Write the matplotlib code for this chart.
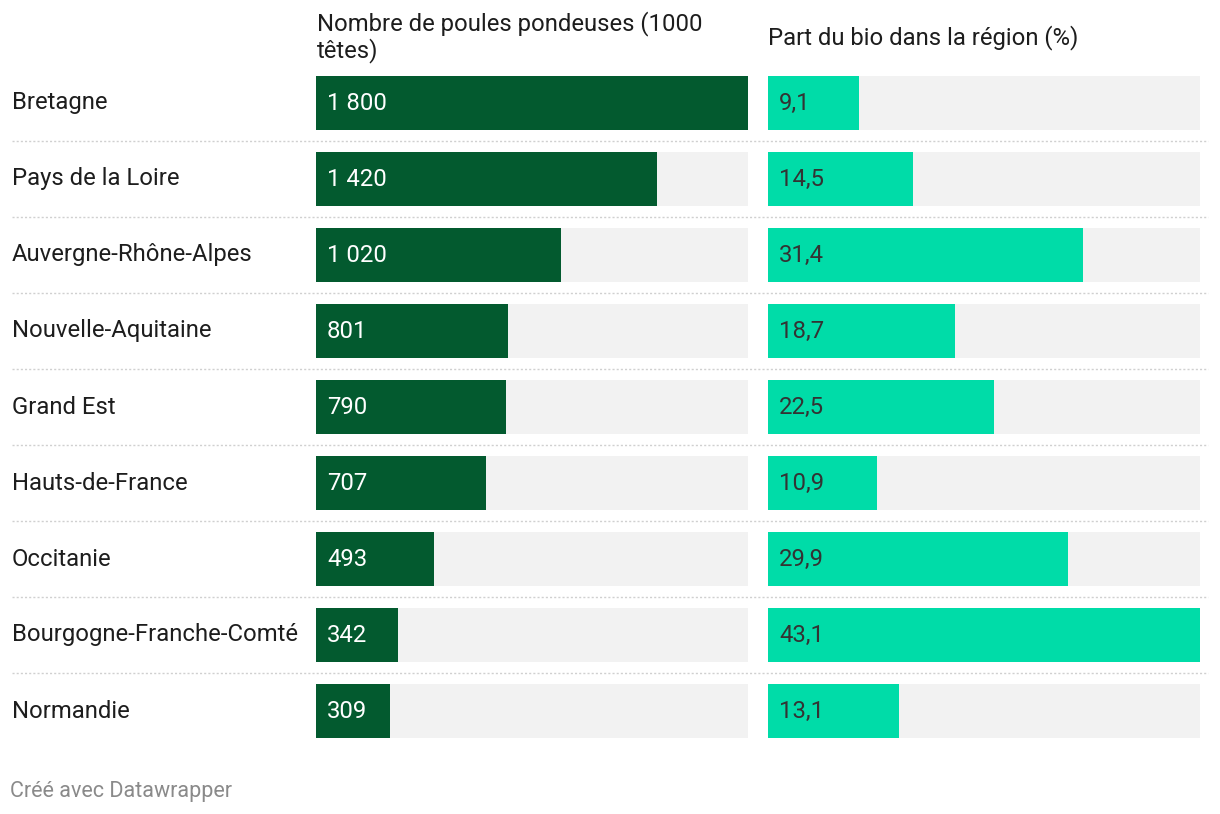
import matplotlib
matplotlib.use("Agg")
import matplotlib.pyplot as plt

plt.rcParams['font.family'] = ['Roboto', 'DejaVu Sans']

regions = ["Bretagne", "Pays de la Loire", "Auvergne-Rhône-Alpes", "Nouvelle-Aquitaine",
           "Grand Est", "Hauts-de-France", "Occitanie", "Bourgogne-Franche-Comté", "Normandie"]
poules = [1800, 1420, 1020, 801, 790, 707, 493, 342, 309]
bio = [9.1, 14.5, 31.4, 18.7, 22.5, 10.9, 29.9, 43.1, 13.1]
title_left = "Nombre de poules pondeuses (1000\ntêtes)"
title_right = "Part du bio dans la région (%)"
footer = "Créé avec Datawrapper"

W, H = 1220, 814
fig = plt.figure(figsize=(W / 100, H / 100), dpi=100)
fig.patch.set_facecolor("white")

top_px, bot_px = 65, 749
n = len(regions)
bar_h = 54 / 76
FS = 17.2

def ax_rect(x0, x1):
    return [x0 / W, 1 - bot_px / H, (x1 - x0) / W, (bot_px - top_px) / H]

# background axes for labels and separators
bg = fig.add_axes(ax_rect(0, W))
bg.set_xlim(0, W)
bg.set_ylim(n - 0.5, -0.5)
bg.axis("off")
for i in range(n - 1):
    bg.plot([12, 1208], [i + 0.5, i + 0.5], color="#d0d0d0", lw=1.0,
            linestyle=(0, (1.5, 1.5)), solid_capstyle="butt")
for i, r in enumerate(regions):
    bg.text(12, i, r, fontsize=FS, color="#1d1d1d", va="center", ha="left")

def panel(x0, x1, vals, color, txtcolor, fmt):
    ax = fig.add_axes(ax_rect(x0, x1))
    vmax = max(vals)
    ax.set_xlim(0, vmax)
    ax.set_ylim(n - 0.5, -0.5)
    ax.axis("off")
    ax.barh(range(n), [vmax] * n, height=bar_h, color="#f2f2f2", linewidth=0)
    ax.barh(range(n), vals, height=bar_h, color=color, linewidth=0)
    for i, v in enumerate(vals):
        ax.annotate(fmt(v), xy=(0, i), xytext=(11, 0), textcoords="offset pixels",
                    va="center", ha="left", fontsize=FS, color=txtcolor)
    return ax

panel(316, 748, poules, "#035a2f", "white", lambda v: f"{v:,}".replace(",", " "))
panel(768, 1200, bio, "#00dca8", "#333333", lambda v: f"{v:.1f}".replace(".", ","))

fig.text(317 / W, 1 - 37 / H, title_left, fontsize=FS, color="#1d1d1d",
         va="center", ha="left", linespacing=1.1)
fig.text(768 / W, 1 - 38 / H, title_right, fontsize=FS, color="#1d1d1d",
         va="center", ha="left")
fig.text(10 / W, 1 - 791 / H, footer, fontsize=15.5, color="#8a8a8a",
         va="center", ha="left")

fig.savefig("out.png", dpi=100, facecolor="white")
